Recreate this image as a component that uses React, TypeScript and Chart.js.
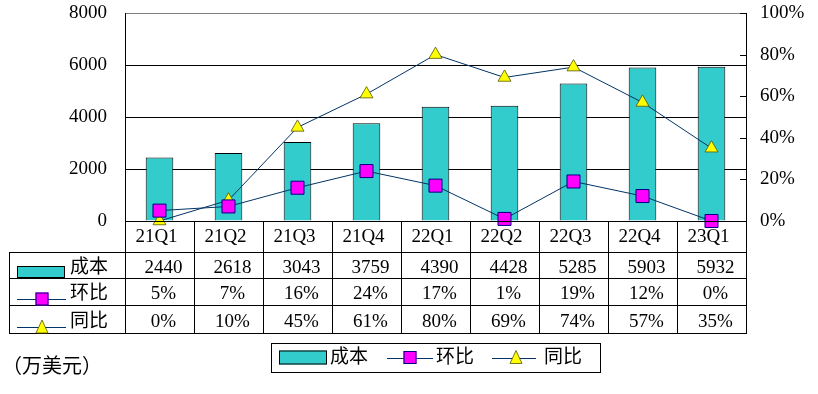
import React, { useEffect, useRef } from 'react';
import { Chart, registerables } from 'chart.js';

Chart.register(...registerables);

const categories = ['21Q1', '21Q2', '21Q3', '21Q4', '22Q1', '22Q2', '22Q3', '22Q4', '23Q1'];
const costValues = [2440, 2618, 3043, 3759, 4390, 4428, 5285, 5903, 5932];
const qoqValues = [5, 7, 16, 24, 17, 1, 19, 12, 0];
const yoyValues = [0, 10, 45, 61, 80, 69, 74, 57, 35];
const seriesNames = ['成本', '环比', '同比'];
const unitLabel = '（万美元）';

const FONT = '"Liberation Serif", "Noto Sans CJK SC", serif';
const FONT_SIZE = 19;
const TEAL = '#33CCCC';
const MAGENTA = '#FF00FF';
const NAVY = '#000080';
const LINE = '#003366';
const YELLOW = '#FFFF00';

function hline(ctx: CanvasRenderingContext2D, x1: number, x2: number, y: number) {
  ctx.beginPath();
  ctx.moveTo(x1, Math.round(y) + 0.5);
  ctx.lineTo(x2, Math.round(y) + 0.5);
  ctx.stroke();
}
function vline(ctx: CanvasRenderingContext2D, x: number, y1: number, y2: number) {
  ctx.beginPath();
  ctx.moveTo(Math.round(x) + 0.5, y1);
  ctx.lineTo(Math.round(x) + 0.5, y2);
  ctx.stroke();
}
function square(ctx: CanvasRenderingContext2D, cx: number, cy: number, s: number) {
  ctx.fillStyle = MAGENTA;
  ctx.strokeStyle = NAVY;
  ctx.lineWidth = 1;
  ctx.fillRect(cx - s / 2, cy - s / 2, s, s);
  ctx.strokeRect(cx - s / 2 + 0.5, cy - s / 2 + 0.5, s - 1, s - 1);
}
function triangle(ctx: CanvasRenderingContext2D, cx: number, bottom: number, w: number, h: number) {
  ctx.beginPath();
  ctx.moveTo(cx, bottom - h);
  ctx.lineTo(cx - w / 2, bottom);
  ctx.lineTo(cx + w / 2, bottom);
  ctx.closePath();
  ctx.fillStyle = YELLOW;
  ctx.fill();
  ctx.strokeStyle = '#555500';
  ctx.lineWidth = 0.8;
  ctx.stroke();
}

const tablePlugin = {
  id: 'dataTable',
  afterDraw(chart: any) {
    const ctx: CanvasRenderingContext2D = chart.ctx;
    const area = chart.chartArea;
    const xs = chart.scales.x;
    const n = categories.length;
    const colW = (area.right - area.left) / n;
    const left = area.left;
    const right = area.right;
    const b = area.bottom;
    const rows = [b, b + 31, b + 57, b + 84, b + 112];
    const tableLeft = 9;

    ctx.save();
    ctx.strokeStyle = '#000';
    ctx.lineWidth = 1;
    // inward ticks on right axis
    const yr = chart.scales.y1;
    for (let v = 0; v <= 100; v += 20) {
      const py = yr.getPixelForValue(v);
      ctx.beginPath();
      ctx.moveTo(right - 6, Math.round(py) + 0.5);
      ctx.lineTo(right, Math.round(py) + 0.5);
      ctx.stroke();
    }
    // table grid
    hline(ctx, left, right + 1, rows[0]);
    for (let r = 1; r < rows.length; r++) hline(ctx, tableLeft, right + 1, rows[r]);
    for (let i = 0; i <= n; i++) vline(ctx, left + i * colW, rows[0], rows[4] + 1);
    vline(ctx, tableLeft, rows[1], rows[4] + 1);

    ctx.fillStyle = '#000';
    ctx.font = `${FONT_SIZE}px ${FONT}`;
    ctx.textBaseline = 'middle';
    ctx.textAlign = 'center';
    for (let i = 0; i < n; i++) {
      const cx = xs.getPixelForValue(i);
      ctx.fillText(categories[i], cx - 3, (rows[0] + rows[1]) / 2 + 1);
      ctx.fillText(String(costValues[i]), cx + 4, (rows[1] + rows[2]) / 2 + 3);
      ctx.fillText(qoqValues[i] + '%', cx + 4, (rows[2] + rows[3]) / 2 + 3);
      ctx.fillText(yoyValues[i] + '%', cx + 4, (rows[3] + rows[4]) / 2 + 3);
    }
    // row headers
    ctx.textAlign = 'left';
    for (let r = 0; r < 3; r++) {
      ctx.fillStyle = '#000';
      ctx.fillText(seriesNames[r], 70, (rows[r + 1] + rows[r + 2]) / 2 + 3);
    }
    // symbols in header cells
    ctx.fillStyle = TEAL;
    ctx.fillRect(17, rows[2] - 12, 48, 12);
    ctx.strokeStyle = '#000';
    ctx.strokeRect(17.5, rows[2] - 11.5, 47, 11);
    ctx.strokeStyle = LINE;
    hline(ctx, 17, 66, rows[3] - 6);
    square(ctx, 42, rows[3] - 6, 13);
    ctx.strokeStyle = LINE;
    hline(ctx, 17, 66, rows[4] - 6);
    triangle(ctx, 42, rows[4], 12, 13);

    // legend box
    const ly = 343;
    const lh = 29;
    const lc = ly + lh / 2;
    ctx.strokeStyle = '#000';
    ctx.lineWidth = 1;
    ctx.strokeRect(271.5, ly + 0.5, 329, lh);
    ctx.fillStyle = TEAL;
    ctx.fillRect(279, lc - 7, 48, 14);
    ctx.strokeStyle = '#000';
    ctx.strokeRect(279.5, lc - 6.5, 47, 13);
    ctx.fillStyle = '#000';
    ctx.fillText(seriesNames[0], 330, lc + 1);
    ctx.strokeStyle = LINE;
    hline(ctx, 387, 433, lc);
    square(ctx, 410, lc, 13);
    ctx.fillStyle = '#000';
    ctx.fillText(seriesNames[1], 436, lc + 1);
    ctx.strokeStyle = LINE;
    hline(ctx, 492, 536, lc);
    triangle(ctx, 516, lc + 6, 12, 13);
    ctx.fillStyle = '#000';
    ctx.fillText(seriesNames[2], 544, lc + 1);

    // unit label
    ctx.font = `20px ${FONT}`;
    ctx.fillText(unitLabel, 2, 368);
    ctx.restore();
  },
};

export default function App() {
  const ref = useRef<HTMLCanvasElement | null>(null);

  useEffect(() => {
    if (!ref.current) return;
    const chart = new Chart(ref.current, {
      type: 'bar',
      data: {
        labels: categories,
        datasets: [
          {
            type: 'line',
            label: seriesNames[1],
            data: qoqValues,
            yAxisID: 'y1',
            borderColor: LINE,
            borderWidth: 1,
            pointStyle: 'rect',
            pointRadius: 9.2,
            pointBackgroundColor: MAGENTA,
            pointBorderColor: NAVY,
            pointBorderWidth: 1,
            tension: 0,
            clip: false,
            order: 1,
          } as any,
          {
            type: 'line',
            label: seriesNames[2],
            data: yoyValues,
            yAxisID: 'y1',
            borderColor: LINE,
            borderWidth: 1,
            pointStyle: 'triangle',
            pointRadius: 7.5,
            pointBackgroundColor: YELLOW,
            pointBorderColor: '#555500',
            pointBorderWidth: 0.8,
            tension: 0,
            clip: false,
            order: 2,
          } as any,
          {
            type: 'bar',
            label: seriesNames[0],
            data: costValues,
            yAxisID: 'y',
            backgroundColor: TEAL,
            borderColor: '#000',
            borderWidth: 1,
            barPercentage: 0.4,
            categoryPercentage: 1,
            order: 3,
          } as any,
        ],
      },
      options: {
        responsive: false,
        animation: false,
        events: [],
        layout: { padding: { left: 0, right: 0, top: 13, bottom: 173 } },
        plugins: { legend: { display: false }, tooltip: { enabled: false } },
        scales: {
          x: { display: false, offset: true },
          y: {
            position: 'left',
            min: 0,
            max: 8000,
            ticks: {
              stepSize: 2000,
              padding: 18,
              color: '#000',
              font: { family: FONT, size: FONT_SIZE },
              callback: (v: any) => String(v),
            },
            grid: {
              drawTicks: false,
              color: (c: any) => (c.tick && c.tick.value === 8000 ? '#808080' : '#000'),
              lineWidth: 1,
            },
            border: { display: true, color: '#000' },
            afterFit: (s: any) => {
              s.width = 125;
              s.paddingTop = 0;
              s.paddingBottom = 0;
            },
          },
          y1: {
            position: 'right',
            min: 0,
            max: 100,
            ticks: {
              stepSize: 20,
              padding: 14,
              color: '#000',
              font: { family: FONT, size: FONT_SIZE },
              callback: (v: any) => v + '%',
            },
            grid: { drawOnChartArea: false, drawTicks: false },
            border: { display: true, color: '#000' },
            afterFit: (s: any) => {
              s.width = 72;
              s.paddingTop = 0;
              s.paddingBottom = 0;
            },
          },
        },
      },
      plugins: [tablePlugin],
    });
    return () => chart.destroy();
  }, []);

  return (
    <div style={{ position: 'fixed', left: 0, top: 0, width: 818, height: 394, background: '#fff' }}>
      <canvas ref={ref} width={818} height={394} style={{ display: 'block' }} />
    </div>
  );
}
